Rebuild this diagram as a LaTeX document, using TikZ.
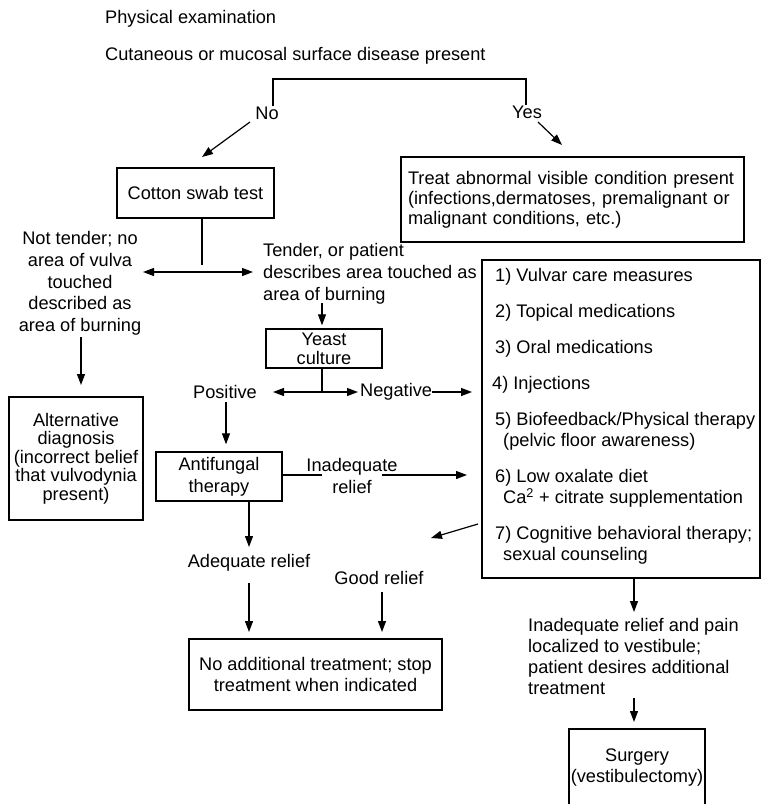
\documentclass[tikz,border=0pt]{standalone}
\usepackage{fontspec}
\setmainfont{Liberation Sans}
\usetikzlibrary{arrows.meta}
\begin{document}
\begin{tikzpicture}[x=1pt,y=-1pt,
  every node/.style={font=\fontsize{18.2}{21}\selectfont, inner sep=0pt},
  box/.style={draw, line width=1.4pt},
  conn/.style={line width=1.2pt},
  arr/.style={conn, -{Triangle[length=11pt,width=8pt]}},
  darr/.style={conn, {Triangle[length=11pt,width=8pt]}-{Triangle[length=11pt,width=8pt]}},
]
\useasboundingbox (0,0) rectangle (765,804);

% header texts
\node[anchor=base west] (phys) at (105,23) {Physical examination};
\node[anchor=base west] (cut) at (105,60) {Cutaneous or mucosal surface disease present};

% branch
\node (no) at (267,113) {No};
\node (yes) at (527,112) {Yes};
\coordinate (brL) at (273,79);
\coordinate (brR) at (526,79);
\draw[conn] (no.north -| brL) -- (brL) -- (brR) -- (yes.north -| brR);

% boxes
\node[box, minimum width=157, minimum height=50] (cotton) at (195.5,193) {Cotton swab test};
\node[box, minimum width=343, minimum height=85, text width=329, align=left,
      font=\fontsize{18.2}{20}\selectfont] (treat) at (572.5,199.5)
  {Treat abnormal visible condition present\\(infections,dermatoses, premalignant or\\malignant conditions, etc.)};

\coordinate (noA) at (250,122);
\coordinate (noB) at (202,157);
\draw[arr] (noA) -- (noB);
\coordinate (yesA) at (538,122);
\coordinate (yesB) at (562,145);
\draw[arr] (yesA) -- (yesB);

% cotton swab outcomes
\node[align=center, font=\fontsize{18.2}{21.75}\selectfont] (nt) at (80,283.5)
  {Not tender; no\\area of vulva\\touched\\described as\\area of burning};
\node[align=left, anchor=west, font=\fontsize{18.2}{22}\selectfont] (tender) at (263,274)
  {Tender, or patient\\describes area touched as\\area of burning};
\coordinate (cs) at (202,265);
\draw[conn] (cotton.south -| cs) -- (cs);
\coordinate (ntR) at (143,272);
\coordinate (tdL) at (253,272);
\draw[darr] (ntR) -- (tdL);

% alternative diagnosis
\node[box, minimum width=134, minimum height=123, align=center,
      font=\fontsize{18.2}{18.5}\selectfont] (alt) at (76,458.5)
  {Alternative\\diagnosis\\(incorrect belief\\that vulvodynia\\present)};
\coordinate (ntA) at (81,337);
\coordinate (ntB) at (81,385);
\draw[arr] (ntA) -- (ntB);

% yeast culture
\node[box, minimum width=116, minimum height=39, align=center,
      font=\fontsize{18.2}{19}\selectfont] (yeast) at (324,348.5) {Yeast\\culture};
\coordinate (tdA) at (322,303);
\draw[arr] (tdA) -- ([yshift=3pt]yeast.north -| tdA);
\coordinate (yj) at (322,392);
\draw[conn] (yeast.south -| yj) -- (yj);
\node (pos) at (225,392) {Positive};
\node[anchor=west] (neg) at (360,392) {Negative};
\coordinate (pnL) at (273,392);
\coordinate (pnR) at (358,392);
\draw[darr] (pnL) -- (pnR);

% big therapy box
\node[box, minimum width=278, minimum height=318] (big) at (621,419) {};
\node[anchor=west] (i1) at (495,277) {1) Vulvar care measures};
\node[anchor=west] (i2) at (495,313) {2) Topical medications};
\node[anchor=west] (i3) at (495,349) {3) Oral medications};
\node[anchor=west] (i4) at (492,385) {4) Injections};
\node[anchor=west, align=left] (i5) at (495,431.5)
  {5) Biofeedback/Physical therapy\\\hspace*{8pt}(pelvic floor awareness)};
\node[anchor=west, align=left] (i6) at (495,488.5)
  {6) Low oxalate diet\\\hspace*{8pt}Ca\textsuperscript{2} + citrate supplementation};
\node[anchor=west, align=left] (i7) at (495,545.5)
  {7) Cognitive behavioral therapy;\\\hspace*{8pt}sexual counseling};

\coordinate (ngA) at (432,392);
\coordinate (ngB) at (472,392);
\draw[arr] (ngA) -- (ngB);

% antifungal
\node[box, minimum width=126, minimum height=49, align=center,
      font=\fontsize{18.2}{22}\selectfont] (anti) at (219,476.5) {Antifungal\\therapy};
\coordinate (psA) at (226,402);
\draw[arr] (psA) -- ([yshift=7pt]anti.north -| psA);
\node[align=center, font=\fontsize{18.2}{22}\selectfont] (inad) at (352,476) {Inadequate\\relief};
\coordinate (inL) at (322,475);
\coordinate (inR) at (382,475);
\coordinate (inT) at (467,475);
\draw[conn] (anti.east |- inL) -- (inL);
\draw[arr] (inR) -- (inT);

% relief
\node (adq) at (249,563) {Adequate relief};
\node (good) at (379,578) {Good relief};
\draw[arr] (anti.south -| adq) -- (249,547);
\coordinate (adA) at (249,583);
\coordinate (adB) at (249,632);
\draw[arr] (adA) -- (adB);
\coordinate (gdA) at (382,592);
\coordinate (gdB) at (382,632);
\draw[arr] (gdA) -- (gdB);
\coordinate (dgA) at (478,524);
\coordinate (dgB) at (431,538);
\draw[arr] (dgA) -- (dgB);

\node[box, minimum width=253, minimum height=71, align=center] (noadd) at (315.5,674.5)
  {No additional treatment; stop\\treatment when indicated};

% surgery path
\node[align=left, anchor=west] (inad2) at (528,656.5)
  {Inadequate relief and pain\\localized to vestibule;\\patient desires additional\\treatment};
\coordinate (bgA) at (634,612);
\draw[arr] (big.south -| bgA) -- (bgA);
\node[box, minimum width=136, minimum height=77, align=center] (surg) at (637,767.5)
  {Surgery\\(vestibulectomy)};
\coordinate (sgA) at (634,698);
\coordinate (sgB) at (634,722);
\draw[arr] (sgA) -- (sgB);
\end{tikzpicture}
\end{document}
